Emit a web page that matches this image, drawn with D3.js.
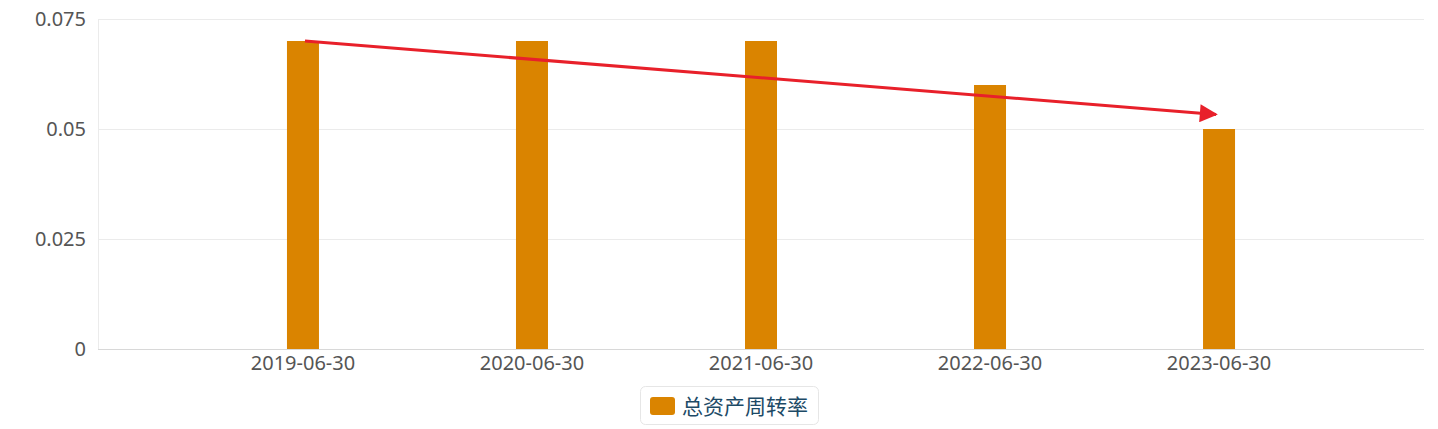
<!DOCTYPE html>
<html>
<head>
<meta charset="utf-8">
<script src="https://cdn.jsdelivr.net/npm/d3@7"></script>
<style>
  body { margin: 0; background: #fff; }
  svg { display: block; font-family: "Noto Sans", "Noto Sans CJK SC", sans-serif; }
</style>
</head>
<body>
<svg id="chart" width="1438" height="429"></svg>
<script>
var categories = ["2019-06-30", "2020-06-30", "2021-06-30", "2022-06-30", "2023-06-30"]
var turnover = [0.07, 0.07, 0.07, 0.06, 0.05]
var yTicks = [0, 0.025, 0.05, 0.075]
var yTickLabels = ["0", "0.025", "0.05", "0.075"]
var seriesName = "总资产周转率"
// trend arrow: from first bar top to the last category
var arrowFrom = { cat: "2019-06-30", value: 0.07 }
var arrowTo = { cat: "2023-06-30", value: 0.0533 }

var svg = d3.select("#chart")
var plotLeft = 98, plotRight = 1424, plotTop = 19, plotBottom = 349

var x = d3.scalePoint()
    .domain(categories)
    .range([plotLeft, plotRight])
    .padding(0.895)

var y = d3.scaleLinear()
    .domain([0, 0.075])
    .range([plotBottom, plotTop])

// grid lines
svg.append("g")
    .selectAll("line")
    .data(yTicks)
    .enter()
    .append("line")
    .attr("x1", plotLeft)
    .attr("x2", plotRight)
    .attr("y1", d => Math.round(y(d)) + 0.5)
    .attr("y2", d => Math.round(y(d)) + 0.5)
    .attr("stroke", d => d == 0 ? "#d8d8d8" : "#ebebeb")
    .attr("stroke-width", 1)

// left axis line
svg.append("line")
    .attr("x1", plotLeft + 0.5).attr("x2", plotLeft + 0.5)
    .attr("y1", plotTop).attr("y2", plotBottom)
    .attr("stroke", "#ebebeb")

// y labels
svg.append("g")
    .selectAll("text")
    .data(yTicks)
    .enter()
    .append("text")
    .attr("x", 86)
    .attr("y", d => y(d) + 7)
    .attr("text-anchor", "end")
    .style("font-size", "20px")
    .style("fill", "#555")
    .text((d, i) => yTickLabels[i])

// x labels
svg.append("g")
    .selectAll("text")
    .data(categories)
    .enter()
    .append("text")
    .attr("x", d => x(d))
    .attr("y", 370)
    .attr("text-anchor", "middle")
    .style("font-size", "20px")
    .style("fill", "#555")
    .text(d => d)

// bars
var barWidth = 32
svg.append("g")
    .selectAll("rect")
    .data(turnover)
    .enter()
    .append("rect")
    .attr("x", (d, i) => x(categories[i]) - barWidth / 2)
    .attr("y", d => y(d))
    .attr("width", barWidth)
    .attr("height", d => plotBottom - y(d))
    .attr("fill", "#da8400")

// arrow
var defs = svg.append("defs")
defs.append("marker")
    .attr("id", "arrowhead")
    .attr("viewBox", "0 0 10 10")
    .attr("refX", 9)
    .attr("refY", 5)
    .attr("markerWidth", 7)
    .attr("markerHeight", 6)
    .attr("markerUnits", "strokeWidth")
    .attr("orient", "auto")
    .append("path")
    .attr("d", "M0,0 L10,5 L0,10 Z")
    .attr("fill", "#e8202a")

svg.append("line")
    .attr("x1", x(arrowFrom.cat) + 2)
    .attr("y1", y(arrowFrom.value))
    .attr("x2", x(arrowTo.cat) - 3)
    .attr("y2", y(arrowTo.value))
    .attr("stroke", "#e8202a")
    .attr("stroke-width", 3)
    .attr("marker-end", "url(#arrowhead)")

// legend
var legend = svg.append("g")
legend.append("rect")
    .attr("x", 640.5).attr("y", 386.5)
    .attr("width", 178).attr("height", 38)
    .attr("rx", 5)
    .attr("fill", "#fff")
    .attr("stroke", "#e6e6e6")
legend.append("rect")
    .attr("x", 650).attr("y", 397)
    .attr("width", 25).attr("height", 18)
    .attr("rx", 3)
    .attr("fill", "#da8400")
legend.append("text")
    .attr("x", 682)
    .attr("y", 414)
    .style("font-size", "21px")
    .style("fill", "#1d4a66")
    .text(seriesName)
</script>
</body>
</html>
